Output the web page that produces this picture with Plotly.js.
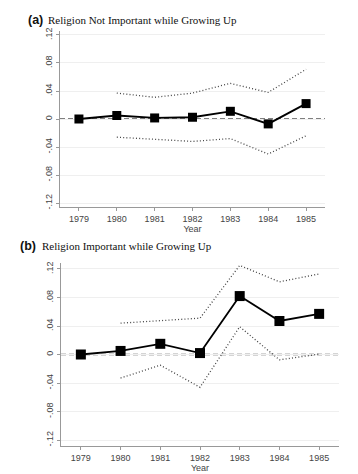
<!DOCTYPE html>
<html>
<head>
<meta charset="utf-8">
<script src="https://cdn.plot.ly/plotly-3.0.1.min.js"></script>
<style>html,body{margin:0;padding:0;background:#fff;}#chart{width:358px;height:474px;}</style>
</head>
<body>
<div id="chart"></div>
<script>
const years = [1979, 1980, 1981, 1982, 1983, 1984, 1985];
const yTickVals = [-0.12, -0.08, -0.04, 0, 0.04, 0.08, 0.12];
const yTickText = ['-.12', '-.08', '-.04', '0', '.04', '.08', '.12'];

// Panel (a): Religion Not Important while Growing Up
const estA   = [0, 0.005, 0.0015, 0.0025, 0.011, -0.007, 0.022];
const upperA = [null, 0.037, 0.031, 0.037, 0.051, 0.038, 0.071];
const lowerA = [null, -0.026, -0.0295, -0.032, -0.028, -0.050, -0.024];

// Panel (b): Religion Important while Growing Up
const estB   = [0, 0.005, 0.015, 0.002, 0.082, 0.047, 0.057];
const upperB = [null, 0.044, 0.047, 0.051, 0.125, 0.102, 0.113];
const lowerB = [null, -0.033, -0.015, -0.046, 0.039, -0.0075, 0.0005];

const W = 358, H = 474;
const px = v => v / W;
const py = v => 1 - v / H;

function ci(y, xa, ya) {
  return {x: years, y: y, xaxis: xa, yaxis: ya, mode: 'lines', connectgaps: false,
    line: {color: '#444444', width: 1.3, dash: '1px,2.2px'}, hoverinfo: 'skip', showlegend: false};
}
function est(y, xa, ya, ms) {
  return {x: years, y: y, xaxis: xa, yaxis: ya, mode: 'lines+markers',
    line: {color: '#000000', width: 1.8},
    marker: {symbol: 'square', size: ms, color: '#000000'}, showlegend: false};
}

const traces = [
  ci(upperA, 'x', 'y'), ci(lowerA, 'x', 'y'), est(estA, 'x', 'y', 9),
  ci(upperB, 'x2', 'y2'), ci(lowerB, 'x2', 'y2'), est(estB, 'x2', 'y2', 10)
];

const tickFont = {family: 'Liberation Sans, Arial, sans-serif', size: 9, color: '#444444'};
function xax(d0, d1, anchor) {
  return {domain: [px(d0), px(d1)], anchor: anchor, range: [1978.5, 1985.5],
    tickmode: 'array', tickvals: years, ticktext: years.map(String),
    ticks: 'outside', ticklen: 3, tickcolor: '#999999', tickwidth: 1,
    showline: true, linecolor: '#999999', linewidth: 1, showgrid: false, zeroline: false,
    tickfont: tickFont,
    title: {text: 'Year', font: tickFont, standoff: 0}};
}
function yax(top, bot, anchor, r) {
  return {domain: [py(bot), py(top)], anchor: anchor, range: [-r, r],
    tickmode: 'array', tickvals: yTickVals, ticktext: yTickText, tickangle: -90,
    ticks: 'outside', ticklen: 3, tickcolor: '#999999', tickwidth: 1,
    showline: true, linecolor: '#999999', linewidth: 1,
    showgrid: true, gridcolor: '#efefef', gridwidth: 1, zeroline: false,
    tickfont: tickFont};
}

const layout = {
  width: W, height: H,
  margin: {l: 0, r: 0, t: 0, b: 0},
  paper_bgcolor: '#ffffff', plot_bgcolor: '#ffffff',
  showlegend: false,
  xaxis: xax(60, 325, 'y'),
  yaxis: yax(31, 207, 'x', 0.1257),
  xaxis2: xax(61, 339, 'y2'),
  yaxis2: yax(263, 446, 'x2', 0.1284),
  shapes: [
    {type: 'line', xref: 'x domain', yref: 'y', x0: 0, x1: 1, y0: 0, y1: 0,
     line: {color: '#555555', width: 1.6, dash: '5px,3px'}, layer: 'below'},
    {type: 'line', xref: 'x2 domain', yref: 'y2', x0: 0, x1: 1, y0: 0, y1: 0,
     line: {color: '#555555', width: 1.6, dash: '5px,3px'}, layer: 'below'}
  ],
  annotations: [
    {xref: 'paper', yref: 'paper', x: px(26), y: py(20), xanchor: 'left', yanchor: 'middle', showarrow: false,
     text: '<b>(a)</b>', font: {family: 'Liberation Sans, Arial, sans-serif', size: 12.5, color: '#111'}},
    {xref: 'paper', yref: 'paper', x: px(46), y: py(20), xanchor: 'left', yanchor: 'middle', showarrow: false,
     text: 'Religion Not Important while Growing Up', font: {family: 'Liberation Serif, Times New Roman, serif', size: 11, color: '#111'}},
    {xref: 'paper', yref: 'paper', x: px(18), y: py(246), xanchor: 'left', yanchor: 'middle', showarrow: false,
     text: '<b>(b)</b>', font: {family: 'Liberation Sans, Arial, sans-serif', size: 12.5, color: '#111'}},
    {xref: 'paper', yref: 'paper', x: px(40), y: py(246), xanchor: 'left', yanchor: 'middle', showarrow: false,
     text: 'Religion Important while Growing Up', font: {family: 'Liberation Serif, Times New Roman, serif', size: 11, color: '#111'}}
  ]
};

Plotly.newPlot('chart', traces, layout, {displayModeBar: false, staticPlot: true});
</script>
</body>
</html>
